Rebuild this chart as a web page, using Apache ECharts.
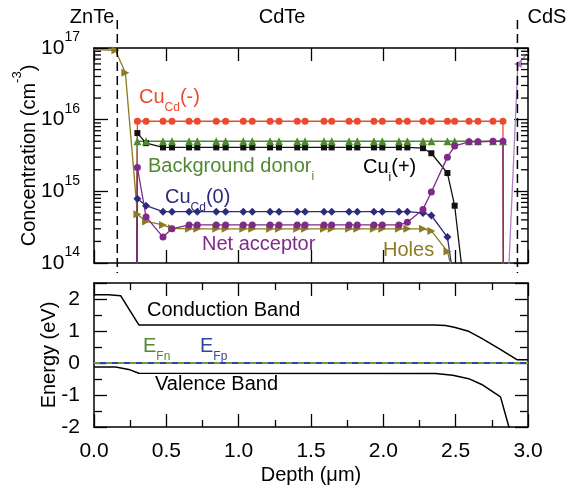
<!DOCTYPE html>
<html><head><meta charset="utf-8">
<script src="https://cdn.jsdelivr.net/npm/echarts@6/dist/echarts.min.js"></script>
<style>html,body{margin:0;padding:0;background:#fff;}#c{width:577px;height:486px;}</style>
</head><body><div id="c"></div>
<script>
const FONT = '"Liberation Sans", Arial, sans-serif';

// ---------- data: concentration panel ----------
const depthMesh = [0.30, 0.36, 0.477, 0.539, 0.657, 0.714, 0.845, 0.91, 1.032, 1.094, 1.217, 1.279, 1.405, 1.459, 1.59, 1.643, 1.763, 1.82, 1.935, 1.993, 2.108, 2.166, 2.274, 2.332, 2.443, 2.493, 2.592, 2.654, 2.758, 2.827];

const depthCuCdMinus = [0.29].concat(depthMesh, [2.835]);
const cuCdMinus = [1e10, 9.5e15, 9.5e15, 9.5e15, 9.5e15, 9.5e15, 9.5e15, 9.5e15, 9.5e15, 9.5e15, 9.5e15, 9.5e15, 9.5e15, 9.5e15, 9.5e15, 9.5e15, 9.5e15, 9.5e15, 9.5e15, 9.5e15, 9.5e15, 9.5e15, 9.5e15, 9.5e15, 9.5e15, 9.5e15, 9.5e15, 9.5e15, 9.5e15, 9.5e15, 9.5e15, 1e10];

const depthDonor = [0.29].concat(depthMesh, [2.835]);
const backgroundDonor = [1e10, 5.0e15, 5.0e15, 5.0e15, 5.0e15, 5.0e15, 5.0e15, 5.0e15, 5.0e15, 5.0e15, 5.0e15, 5.0e15, 5.0e15, 5.0e15, 5.0e15, 5.0e15, 5.0e15, 5.0e15, 5.0e15, 5.0e15, 5.0e15, 5.0e15, 5.0e15, 5.0e15, 5.0e15, 5.0e15, 5.0e15, 5.0e15, 5.0e15, 5.0e15, 5.0e15, 1e10];

const depthCuI = [0.29].concat(depthMesh.slice(0, 27));
const cuIPlus = [1e10, 6.5e15, 4.7e15, 4.1e15, 4.1e15, 4.1e15, 4.1e15, 4.1e15, 4.1e15, 4.1e15, 4.1e15, 4.1e15, 4.1e15, 4.1e15, 4.1e15, 4.1e15, 4.1e15, 4.1e15, 4.1e15, 4.1e15, 4.1e15, 4.1e15, 4.1e15, 4.0e15, 3.4e15, 1.8e15, 6.3e14, 1.2e13];

const depthCuCdZero = [0.285].concat(depthMesh.slice(0, 26));
const cuCdZero = [1e10, 7.9e14, 6.3e14, 5.2e14, 5.2e14, 5.2e14, 5.2e14, 5.2e14, 5.2e14, 5.2e14, 5.2e14, 5.2e14, 5.2e14, 5.2e14, 5.2e14, 5.2e14, 5.2e14, 5.2e14, 5.2e14, 5.2e14, 5.2e14, 5.2e14, 5.2e14, 5.0e14, 4.6e14, 2.3e14, 4.7e13];

const depthNetAcceptor = [0.29].concat(depthMesh, [2.835]);
const netAcceptor = [1e10, 2.15e15, 4.4e14, 2.3e14, 3.0e14, 3.4e14, 3.4e14, 3.4e14, 3.4e14, 3.4e14, 3.4e14, 3.4e14, 3.4e14, 3.4e14, 3.4e14, 3.4e14, 3.4e14, 3.4e14, 3.4e14, 3.4e14, 3.4e14, 3.4e14, 3.7e14, 5.6e14, 9.8e14, 3.0e15, 4.3e15, 4.9e15, 4.9e15, 5.0e15, 5.0e15, 1e10];

const depthHoles = [0, 0.148, 0.217].concat(depthMesh.slice(0, 26));
const holes = [9.5e16, 9.3e16, 4.5e16, 4.8e14, 3.8e14, 3.4e14, 3.05e14, 3.0e14, 3.0e14, 3.0e14, 3.0e14, 3.0e14, 3.0e14, 3.0e14, 3.0e14, 3.0e14, 3.0e14, 3.0e14, 3.0e14, 3.0e14, 3.0e14, 3.0e14, 3.0e14, 3.0e14, 3.0e14, 3.0e14, 2.8e14, 1.45e14, 5.5e13];

const depthElectrons = [2.825, 2.93, 3.0];
const electrons = [1e12, 6e16, 8.5e16];

// log-axis minor tick values (2..9 x each decade)
const logMinorTicks = [2e14, 3e14, 4e14, 5e14, 6e14, 7e14, 8e14, 9e14,
  2e15, 3e15, 4e15, 5e15, 6e15, 7e15, 8e15, 9e15,
  2e16, 3e16, 4e16, 5e16, 6e16, 7e16, 8e16, 9e16];

// ---------- data: band panel ----------
const depthCB = [0, 0.10, 0.185, 0.31, 2.35, 2.43, 2.49, 2.59, 2.68, 2.80, 2.926, 3.0];
const conductionBand = [2.13, 2.13, 2.10, 1.19, 1.19, 1.17, 1.12, 0.99, 0.77, 0.45, 0.10, 0.10];
const depthVB = [0, 0.15, 0.24, 0.31, 2.36, 2.48, 2.59, 2.68, 2.81, 2.868, 2.90];
const valenceBand = [-0.125, -0.125, -0.2, -0.32, -0.33, -0.38, -0.49, -0.67, -1.06, -2.0, -2.6];
const depthFermi = [0, 3];
const eFn = [0, 0];
const eFp = [0, 0];

// ---------- layer interfaces & labels ----------
const interfaceDepth = [0.161, 2.927];
const layerNames = ['ZnTe', 'CdTe', 'CdS'];

const C = {
  red: '#ec4a2c', green: '#4f8a30', black: '#111111', navy: '#2e2b7d',
  purple: '#7e2a88', olive: '#8c7b20', lavender: '#b37fc9', efn: '#6f9e40', efp: '#3344a0'
};

function pairs(xs, ys) { return xs.map((x, i) => [x, ys[i]]); }

function topSeries(name, xs, ys, color, symbol, size, extra) {
  return Object.assign({
    type: 'line', name, xAxisIndex: 0, yAxisIndex: 0, data: pairs(xs, ys),
    symbol, symbolSize: size, showSymbol: true, clip: true,
    lineStyle: { color, width: 1.3 }, itemStyle: { color }, animation: false
  }, extra || {});
}

const holesData = pairs(depthHoles, holes);
holesData[0] = { value: holesData[0], symbol: 'none' };
const elecData = pairs(depthElectrons, electrons);
elecData[2] = { value: elecData[2], symbol: 'none' };

const axisLine = { show: true, onZero: false, lineStyle: { color: '#000', width: 1.5 } };
const tickStyle = { color: '#000', width: 1.3 };

function xAx(grid, pos, labels, minor) {
  const a = {
    gridIndex: grid, type: 'value', min: 0, max: 3, interval: 0.5, position: pos,
    axisLine, splitLine: { show: false },
    axisTick: { show: true, inside: true, length: 13, lineStyle: tickStyle },
    minorTick: { show: !!minor, splitNumber: 2, length: 7, lineStyle: tickStyle },
    axisLabel: { show: !!labels, fontSize: 21, color: '#000', margin: 14, fontFamily: FONT,
      formatter: v => v.toFixed(1) }
  };
  if (labels) {
    a.name = 'Depth (μm)'; a.nameLocation = 'middle'; a.nameGap = 38; a.nameMoveOverlap = false;
    a.nameTextStyle = { fontSize: 20, color: '#000', fontFamily: FONT };
  }
  return a;
}

function logY(pos, labels) {
  const a = {
    gridIndex: 0, type: 'log', logBase: 10, min: 1e14, max: 1e17, position: pos,
    axisLine, splitLine: { show: false },
    axisTick: { show: true, inside: true, length: 14, lineStyle: tickStyle },
    minorTick: { show: false },
    axisLabel: {
      show: labels, margin: 14, color: '#000',
      formatter: v => '{b|10}{s|' + Math.round(Math.log10(v)) + '}',
      rich: {
        b: { fontSize: 21, lineHeight: 35, fontFamily: FONT, color: '#000' },
        s: { fontSize: 14, lineHeight: 14, verticalAlign: 'top', fontFamily: FONT, color: '#000' }
      }
    }
  };
  if (labels) {
    a.name = '{m|Concentration (cm}{s|-3}{m|)}';
    a.nameLocation = 'middle'; a.nameGap = 46; a.nameRotate = 90; a.nameMoveOverlap = false;
    a.nameTextStyle = {
      color: '#000',
      rich: {
        m: { fontSize: 20, lineHeight: 37, fontFamily: FONT, color: '#000' },
        s: { fontSize: 13, lineHeight: 13, verticalAlign: 'top', fontFamily: FONT, color: '#000' }
      }
    };
  }
  return a;
}

function bandY(pos, labels) {
  const a = {
    gridIndex: 1, type: 'value', min: -2, max: 2.5, interval: 1, position: pos,
    axisLine, splitLine: { show: false },
    axisTick: { show: true, inside: true, length: 13, lineStyle: tickStyle },
    minorTick: { show: true, splitNumber: 2, length: 8, lineStyle: tickStyle },
    axisLabel: { show: labels, fontSize: 21, color: '#000', margin: 14, fontFamily: FONT,
      formatter: v => (Number.isInteger(v) ? String(v) : '') }
  };
  if (labels) {
    a.name = 'Energy (eV)'; a.nameLocation = 'middle'; a.nameGap = 35; a.nameRotate = 90; a.nameMoveOverlap = false;
    a.nameTextStyle = { fontSize: 20, color: '#000', fontFamily: FONT };
  }
  return a;
}

const minorTickSeries = {
  type: 'custom', name: 'log minor ticks', xAxisIndex: 0, yAxisIndex: 0, silent: true, clip: false, z: 10,
  encode: { x: 0, y: 1 },
  data: logMinorTicks.map(v => [0, v]),
  renderItem: (params, api) => {
    const v = api.value(1);
    const pL = api.coord([0, v]);
    const pR = api.coord([3, v]);
    const st = { stroke: '#000', lineWidth: 1.3 };
    return { type: 'group', children: [
      { type: 'line', shape: { x1: pL[0], y1: pL[1], x2: pL[0] + 7, y2: pL[1] }, style: st },
      { type: 'line', shape: { x1: pR[0], y1: pR[1], x2: pR[0] - 7, y2: pR[1] }, style: st }
    ] };
  }
};

const option = {
  animation: false,
  backgroundColor: '#fff',
  textStyle: { fontFamily: FONT },
  grid: [
    { left: 94, top: 48, right: 49, height: 215, containLabel: false, outerBoundsMode: 'none' },
    { left: 94, top: 283, right: 49, height: 144, containLabel: false, outerBoundsMode: 'none' }
  ],
  xAxis: [xAx(0, 'bottom', false, false), xAx(0, 'top', false, false), xAx(1, 'bottom', true, true), xAx(1, 'top', false, true)],
  yAxis: [logY('left', true), logY('right', false), bandY('left', true), bandY('right', false)],
  series: [
    minorTickSeries,
    topSeries('Cui(+)', depthCuI, cuIPlus, C.black, 'rect', 6),
    topSeries('Background donor', depthDonor, backgroundDonor, C.green, 'triangle', 8),
    topSeries('CuCd(-)', depthCuCdMinus, cuCdMinus, C.red, 'circle', 7),
    topSeries('CuCd(0)', depthCuCdZero, cuCdZero, C.navy, 'diamond', 8),
    Object.assign(topSeries('Holes', depthHoles, holes, C.olive, 'triangle', 8, { symbolRotate: -90 }), { data: holesData }),
    topSeries('Net acceptor', depthNetAcceptor, netAcceptor, C.purple, 'circle', 7),
    Object.assign(topSeries('Electrons', depthElectrons, electrons, C.lavender, 'triangle', 8, { symbolRotate: 90 }), { data: elecData }),
    { type: 'line', name: 'Conduction Band', xAxisIndex: 2, yAxisIndex: 2, data: pairs(depthCB, conductionBand),
      symbol: 'none', lineStyle: { color: '#000', width: 1.5 } },
    { type: 'line', name: 'Valence Band', xAxisIndex: 2, yAxisIndex: 2, data: pairs(depthVB, valenceBand),
      symbol: 'none', lineStyle: { color: '#000', width: 1.5 }, clip: true },
    { type: 'line', name: 'EFp', xAxisIndex: 2, yAxisIndex: 2, data: pairs(depthFermi, eFp),
      symbol: 'none', lineStyle: { color: C.efp, width: 2 } },
    { type: 'line', name: 'EFn', xAxisIndex: 2, yAxisIndex: 2, data: pairs(depthFermi, eFn),
      symbol: 'none', lineStyle: { color: C.efn, width: 2, type: [6, 6] } }
  ]
};

const chart = echarts.init(document.getElementById('c'), null, { renderer: 'canvas' });
chart.setOption(option);

const RICH = {
  m: { fontSize: 20, lineHeight: 27, verticalAlign: 'top', fontFamily: FONT },
  s: { fontSize: 12, lineHeight: 12, verticalAlign: 'bottom', fontFamily: FONT }
};
function label(text, x, baseline, color, align) {
  align = align || 'left';
  return { type: 'text', x: x, y: baseline - 17, z: 100,
    style: { text, fill: color, rich: RICH, font: '20px ' + FONT,
      align, verticalAlign: 'top', textAlign: align, textVerticalAlign: 'top' } };
}

const graphics = [];
interfaceDepth.forEach(d => {
  const px = chart.convertToPixel({ xAxisIndex: 0 }, d);
  graphics.push({ type: 'line', z: 90, shape: { x1: px, y1: 20, x2: px, y2: 273 },
    style: { stroke: '#000', lineWidth: 1.5, lineDash: [9, 5] } });
});
const xZ = chart.convertToPixel({ xAxisIndex: 0 }, interfaceDepth[0]);
const xS = chart.convertToPixel({ xAxisIndex: 0 }, interfaceDepth[1]);
const xMid = chart.convertToPixel({ xAxisIndex: 0 }, 1.3);
graphics.push(label('{m|' + layerNames[0] + '}', xZ - 3, 24, '#000', 'right'));
graphics.push(label('{m|' + layerNames[1] + '}', xMid, 24, '#000', 'center'));
graphics.push(label('{m|' + layerNames[2] + '}', xS + 10, 24, '#000', 'left'));

graphics.push(label('{m|Cu}{s|Cd}{m|(-)}', 139, 104, C.red));
graphics.push(label('{m|Background donor}{s|i}', 148, 173, C.green));
graphics.push(label('{m|Cu}{s|i}{m|(+)}', 363, 174, '#000'));
graphics.push(label('{m|Cu}{s|Cd}{m|(0)}', 165, 204, C.navy));
graphics.push(label('{m|Net acceptor}', 202, 251, C.purple));
graphics.push(label('{m|Holes}', 383, 257, C.olive));
graphics.push(label('{m|Conduction Band}', 147, 317, '#000'));
graphics.push(label('{m|E}{s|Fn}', 143, 353, C.green));
graphics.push(label('{m|E}{s|Fp}', 200, 353, C.efp));
graphics.push(label('{m|Valence Band}', 155, 391, '#000'));

chart.setOption({ graphic: graphics });
</script>
</body></html>
